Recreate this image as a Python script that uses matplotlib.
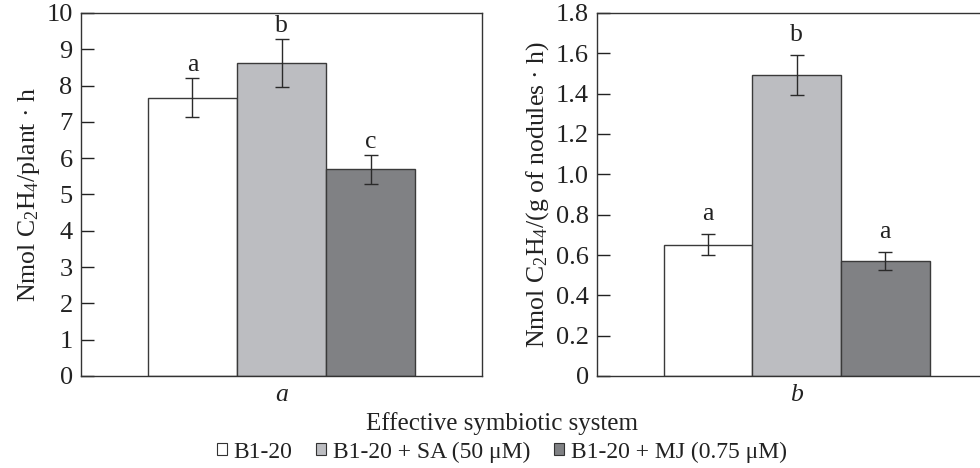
import matplotlib
matplotlib.use("Agg")
import matplotlib.pyplot as plt
from matplotlib.patches import Patch
import numpy as np

plt.rcParams['font.family'] = ['Liberation Serif', 'DejaVu Serif']
plt.rcParams['mathtext.fontset'] = 'custom'
plt.rcParams['mathtext.rm'] = 'Liberation Serif'
plt.rcParams['mathtext.it'] = 'Liberation Serif:italic'

series = ['B1-20', 'B1-20 + SA (50 μM)', 'B1-20 + MJ (0.75 μM)']
colors = ['#ffffff', '#bcbdc1', '#808184']

vals_a = [7.67, 8.62, 5.69]
err_a = [0.54, 0.67, 0.40]
letters_a = ['a', 'b', 'c']

vals_b = [0.652, 1.492, 0.570]
err_b = [0.052, 0.098, 0.043]
letters_b = ['a', 'b', 'a']

W, H = 980, 468
fig = plt.figure(figsize=(W/100, H/100), dpi=100)

def px(l, t, r, b):
    return [l/W, 1 - b/H, (r-l)/W, (b-t)/H]

ax1 = fig.add_axes(px(81, 13, 482, 376))
ax2 = fig.add_axes(px(597, 13, 996, 376))

TXT = '#222222'

def draw(ax, vals, errs, letters, ymax, yticks, yticklabels, ylabel, xlabel, off):
    x = np.array([-1, 0, 1])
    ax.bar(x, vals, width=1.0, color=colors, edgecolor='#3a3a3a', linewidth=1.0, zorder=2)
    ax.errorbar(x, vals, yerr=errs, fmt='none', ecolor='#2a2a2a', elinewidth=1.0,
                capsize=5, capthick=1.0, zorder=3)
    for xi, v, e, l in zip(x, vals, errs, letters):
        ax.text(xi, v + e + off, l, ha='center', va='bottom', fontsize=18.5, color=TXT)
    ax.set_xlim(-2.25, 2.25)
    ax.set_ylim(0, ymax)
    ax.set_yticks(yticks)
    ax.set_yticklabels(yticklabels)
    ax.set_xticks([])
    ax.tick_params(axis='y', direction='in', length=9, width=1, labelsize=19,
                   pad=6, colors=TXT)
    for s in ax.spines.values():
        s.set_linewidth(1.0)
        s.set_color('#333333')
    ax.set_ylabel(ylabel, fontsize=18.5, color=TXT, labelpad=3)
    ax.set_xlabel(xlabel, fontsize=18.5, style='italic', labelpad=6, color=TXT)

draw(ax1, vals_a, err_a, letters_a, 10, list(range(0, 11)),
     [str(i) for i in range(0, 11)],
     'Nmol C$_2$H$_4$/plant · h', 'a', 0.05)
draw(ax2, vals_b, err_b, letters_b, 1.8, [0, 0.2, 0.4, 0.6, 0.8, 1.0, 1.2, 1.4, 1.6, 1.8],
     ['0', '0.2', '0.4', '0.6', '0.8', '1.0', '1.2', '1.4', '1.6', '1.8'],
     'Nmol C$_2$H$_4$/(g of nodules · h)', 'b', 0.045)

fig.text(502/W, 1 - 424/H, 'Effective symbiotic system', ha='center', va='center',
         fontsize=18, color=TXT)

handles = [Patch(facecolor=c, edgecolor='#333333', linewidth=0.8) for c in colors]
fig.legend(handles, series, loc='center', bbox_to_anchor=(502/W, 1 - 452/H),
           ncol=3, frameon=False, fontsize=17, handlelength=0.42, handleheight=0.42,
           handletextpad=0.3, columnspacing=1.0, borderpad=0, labelcolor=TXT)

fig.savefig('out.png', dpi=100)
